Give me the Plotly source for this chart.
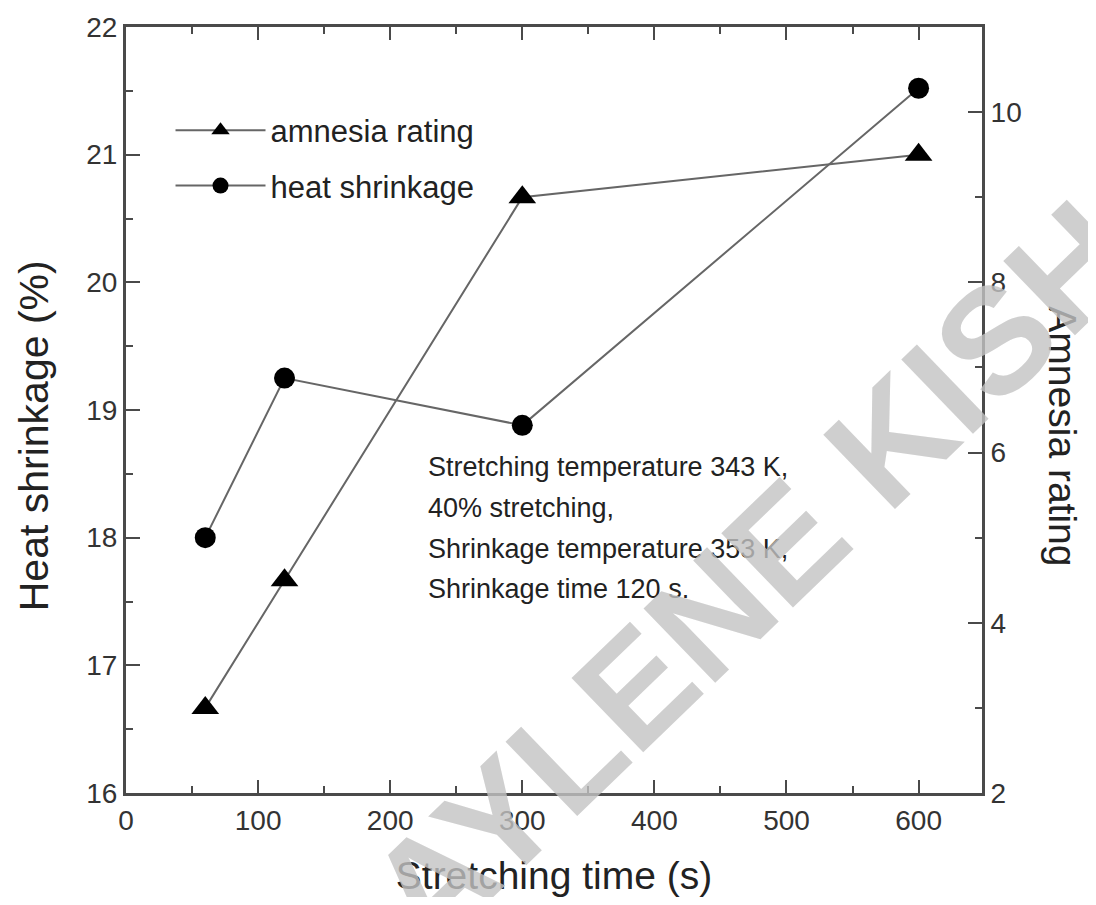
import plotly.graph_objects as go

# ---- data ----
time_s = [60, 120, 300, 600]
heat_shrinkage = [18.0, 19.25, 18.88, 21.52]
amnesia_rating = [3.0, 4.5, 9.0, 9.5]

x_ticks = [0, 100, 200, 300, 400, 500, 600]
left_ticks = [16, 17, 18, 19, 20, 21, 22]
right_ticks = [2, 4, 6, 8, 10]

note_lines = [
    "Stretching temperature 343 K,",
    "40% stretching,",
    "Shrinkage temperature 353 K,",
    "Shrinkage time 120 s.",
]
watermark = "AYLENE KISH"

FONT = "Liberation Sans, Arial, sans-serif"
AX = "#4a4a4a"
LINE = "#666666"

fig = go.Figure()

fig.add_trace(go.Scatter(
    x=time_s, y=amnesia_rating, yaxis="y2", name="amnesia rating",
    mode="lines+markers", legendgroup="a",
    line=dict(color=LINE, width=2),
    marker=dict(symbol="triangle-up", size=24, color="black"),
))
fig.add_trace(go.Scatter(
    x=time_s, y=heat_shrinkage, yaxis="y", name="heat shrinkage",
    mode="lines+markers", legendgroup="b",
    line=dict(color=LINE, width=2),
    marker=dict(symbol="circle", size=21, color="black"),
))

ann = []
y0 = 0.425
for i, t in enumerate(note_lines):
    ann.append(dict(
        text=t, xref="paper", yref="paper", x=0.350, y=y0 - i * 0.0530,
        xanchor="left", yanchor="middle", showarrow=False,
        font=dict(family=FONT, size=27, color="#222"),
    ))

# left axis title
ann.append(dict(
    text="Heat shrinkage (%)", xref="paper", yref="paper",
    x=-0.1075, y=0.467, xanchor="center", yanchor="middle",
    textangle=-90, showarrow=False,
    font=dict(family=FONT, size=41, color="#222"),
))
# right axis title (reads top to bottom)
ann.append(dict(
    text="Amnesia rating", xref="paper", yref="paper",
    x=1.094, y=0.465, xanchor="center", yanchor="middle",
    textangle=90, showarrow=False,
    font=dict(family=FONT, size=39, color="#222"),
))

# watermark
ann.append(dict(
    text="<b>" + watermark + "</b>", xref="paper", yref="paper",
    x=0.731, y=0.285, xanchor="center", yanchor="middle",
    textangle=-44, showarrow=False,
    font=dict(family=FONT, size=150, color="rgba(195,195,195,0.8)"),
))

fig.update_layout(
    width=1080, height=889,
    margin=dict(l=118, r=106, t=19, b=104),
    paper_bgcolor="white", plot_bgcolor="white",
    font=dict(family=FONT, size=26, color="#333"),
    showlegend=True,
    legend=dict(
        x=0.052, y=0.90, xanchor="left", yanchor="top",
        bgcolor="rgba(0,0,0,0)", traceorder="grouped",
        tracegroupgap=12, itemwidth=90,
        font=dict(family=FONT, size=31, color="#222"),
    ),
    xaxis=dict(
        range=[0, 648], tickmode="array", tickvals=x_ticks,
        ticks="inside", ticklen=13, tickwidth=2, tickcolor=AX,
        minor=dict(ticks="inside", ticklen=7, tickwidth=2, tickcolor=AX, dtick=50),
        showline=True, linecolor=AX, linewidth=3, mirror="ticks",
        showgrid=False, zeroline=False, automargin=False,
        tickfont=dict(family=FONT, size=28, color="#333"),
        title=dict(text="Stretching time (s)", standoff=29,
                   font=dict(family=FONT, size=39, color="#222")),
    ),
    yaxis=dict(
        range=[16, 22], tickmode="array", tickvals=left_ticks,
        ticks="inside", ticklen=14, tickwidth=2, tickcolor=AX,
        minor=dict(ticks="inside", ticklen=7, tickwidth=2, tickcolor=AX, dtick=0.5),
        showline=True, linecolor=AX, linewidth=3,
        showgrid=False, zeroline=False, automargin=False,
        tickfont=dict(family=FONT, size=28, color="#333"),
    ),
    yaxis2=dict(
        range=[2, 11], tickmode="array", tickvals=right_ticks,
        overlaying="y", side="right",
        ticks="inside", ticklen=14, tickwidth=2, tickcolor=AX,
        minor=dict(ticks="inside", ticklen=7, tickwidth=2, tickcolor=AX, dtick=1),
        showline=True, linecolor=AX, linewidth=3,
        showgrid=False, zeroline=False, automargin=False,
        tickfont=dict(family=FONT, size=28, color="#333"),
    ),
    annotations=ann,
)

fig.write_html("out.html")
